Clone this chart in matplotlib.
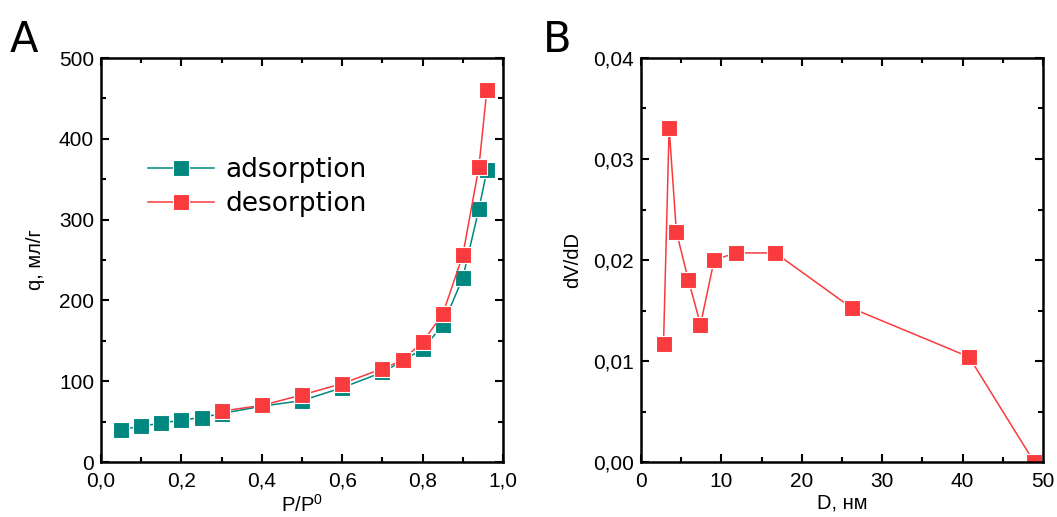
import matplotlib
matplotlib.use("Agg")
import matplotlib.pyplot as plt
from matplotlib.ticker import MultipleLocator, FuncFormatter

# isotherm data (panel A)
p_ads = [0.05, 0.10, 0.15, 0.20, 0.25, 0.30, 0.40, 0.50, 0.60, 0.70, 0.75, 0.80, 0.85, 0.90, 0.94, 0.96]
q_ads = [40, 44.5, 48, 52, 55, 60, 69, 76, 92, 111, 125, 140, 169, 228, 313, 361]
p_des = [0.30, 0.40, 0.50, 0.60, 0.70, 0.75, 0.80, 0.85, 0.90, 0.94, 0.96]
q_des = [63, 70, 83, 97, 115.5, 126, 148.5, 183, 256, 365, 461]

# pore size distribution (panel B)
d_nm = [2.8, 3.5, 4.4, 5.9, 7.4, 9.1, 11.8, 16.7, 26.3, 40.8, 48.9]
dv_dd = [0.0117, 0.0331, 0.0228, 0.0180, 0.0136, 0.0200, 0.0207, 0.0207, 0.0152, 0.0104, 0.0]

teal = "#00877F"
red = "#F93B3D"

plt.rcParams["font.family"] = ["Liberation Sans", "DejaVu Sans"]
plt.rcParams["mathtext.fontset"] = "custom"
plt.rcParams["mathtext.rm"] = "Liberation Sans"

fig = plt.figure(figsize=(10.57, 5.17), dpi=100)
axA = fig.add_axes([101/1057, 1 - 462/517, 402/1057, 404/517])
axB = fig.add_axes([641/1057, 1 - 462/517, 402/1057, 404/517])

mk = dict(marker="s", markersize=11.5, markeredgecolor="white", markeredgewidth=0.8, linewidth=1.1)

axA.plot(p_ads, q_ads, color=teal, label="adsorption", **mk)
axA.plot(p_des, q_des, color=red, label="desorption", **mk)
axB.plot(d_nm, dv_dd, color=red, **mk)


def comma(fmt):
    return FuncFormatter(lambda v, pos: (fmt % v).replace(".", ","))


axA.set_xlim(0, 1.0)
axA.set_ylim(0, 500)
axA.xaxis.set_major_locator(MultipleLocator(0.2))
axA.xaxis.set_minor_locator(MultipleLocator(0.1))
axA.yaxis.set_major_locator(MultipleLocator(100))
axA.yaxis.set_minor_locator(MultipleLocator(50))
axA.xaxis.set_major_formatter(comma("%.1f"))
axA.set_xlabel("P/P$\\mathrm{^0}$", fontsize=14.5, labelpad=2)
axA.set_ylabel("q, мл/г", fontsize=14.5, labelpad=10)

axB.set_xlim(0, 50)
axB.set_ylim(0, 0.04)
axB.xaxis.set_major_locator(MultipleLocator(10))
axB.xaxis.set_minor_locator(MultipleLocator(5))
axB.yaxis.set_major_locator(MultipleLocator(0.01))
axB.yaxis.set_minor_locator(MultipleLocator(0.005))
axB.yaxis.set_major_formatter(comma("%.2f"))
axB.set_xlabel("D, нм", fontsize=14.5, labelpad=2)
axB.set_ylabel("dV/dD", fontsize=14.5, labelpad=8)

for ax in (axA, axB):
    ax.tick_params(which="both", direction="in", top=True, right=True, width=1.5)
    ax.tick_params(which="major", length=6, labelsize=15)
    ax.tick_params(axis="x", which="major", pad=7)
    ax.tick_params(axis="y", which="major", pad=5)
    ax.tick_params(which="minor", length=3.5)
    for s in ax.spines.values():
        s.set_linewidth(1.8)

axA.legend(loc="upper left", bbox_to_anchor=(0.09, 0.78), frameon=False,
           prop={"family": "DejaVu Sans", "size": 19},
           handlelength=2.5, handletextpad=0.45, labelspacing=0.3, borderaxespad=0)

fig.text(10/1057, 1 - 52/517, "A", fontsize=30, family="DejaVu Sans")
fig.text(543/1057, 1 - 52/517, "B", fontsize=30, family="DejaVu Sans")

fig.savefig("out.png", dpi=100)
